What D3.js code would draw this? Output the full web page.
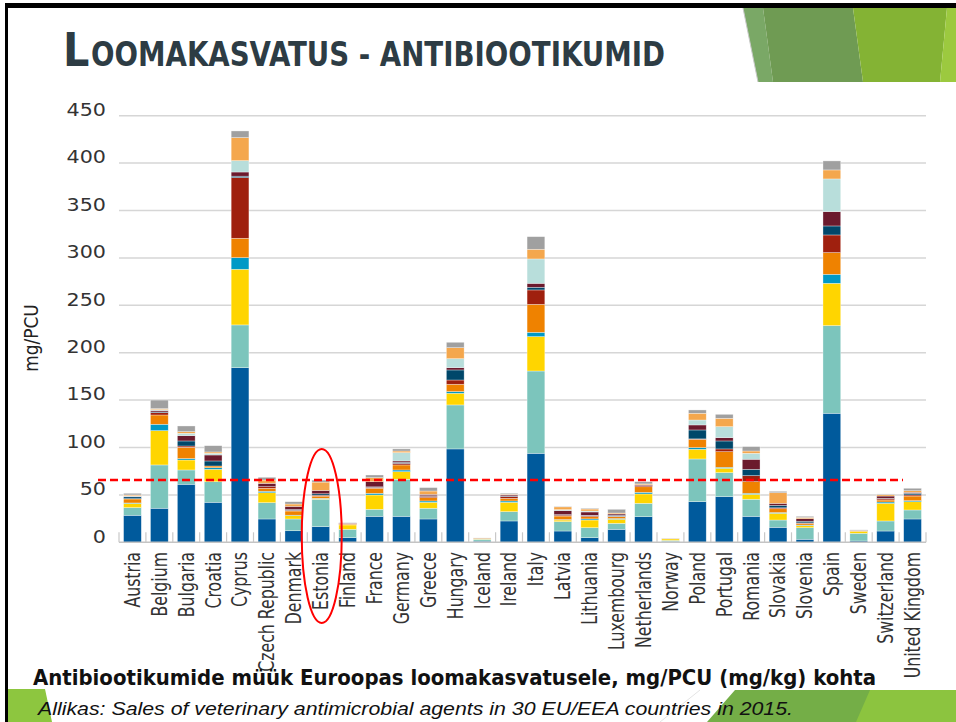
<!DOCTYPE html>
<html><head><meta charset="utf-8">
<script src="https://cdn.jsdelivr.net/npm/d3@7"></script>
<style>html,body{margin:0;padding:0;background:#fff;} svg{display:block}</style>
</head><body>
<svg id="c" width="956" height="722"></svg>
<script>
const countries = ["Austria","Belgium","Bulgaria","Croatia","Cyprus","Czech Republic","Denmark","Estonia","Finland","France","Germany","Greece","Hungary","Iceland","Ireland","Italy","Latvia","Lithuania","Luxembourg","Netherlands","Norway","Poland","Portugal","Romania","Slovakia","Slovenia","Spain","Sweden","Switzerland","United Kingdom"];

const tetracyclines   = [28.5,35.9,61.2,42.2,184.2,24.6,12.2,16.5,4.9,27.4,27.4,24.6,98.5,1.2,22.5,93.9,11.9,4.9,13.7,27.0,0.8,42.9,48.2,27.4,15.8,3.2,136.1,1.4,11.9,24.6];
const penicillins     = [8.1,45.7,15.1,21.7,45.1,17.2,12.4,28.9,8.8,7.4,39.1,11.3,46.4,2.0,9.8,86.8,9.9,10.5,6.3,14.1,1.2,45.0,25.3,18.0,7.7,12.2,92.5,8.1,10.6,9.5];
const sulfonamides    = [4.4,36.2,10.5,13.1,58.7,10.5,3.5,0.5,4.6,15.1,8.0,6.3,12.3,0.3,9.9,36.3,1.7,8.1,4.3,9.9,1.6,10.2,4.6,5.2,7.1,2.1,44.6,2.1,18.6,8.7];
const trimethoprim    = [0.5,6.7,1.5,1.7,12.3,1.5,0.5,0.5,0.3,1.8,1.8,1.4,1.8,0,1.4,4.5,0.5,1.2,0.8,1.7,0,1.8,1.0,1.1,0.8,0.7,9.5,0,1.4,1.1];
const macrolides      = [4.2,9.8,11.9,1.8,20.4,3.2,4.4,2.3,0.8,5.3,5.3,3.5,7.7,0.8,2.8,29.5,3.7,2.3,1.9,5.9,0.3,8.7,16.5,12.3,4.0,1.8,22.9,0.6,2.1,4.9];
const lincosamides    = [0.3,2.5,1.4,0,64.0,1.7,0.8,1.0,0.6,1.0,1.7,1.5,4.5,0,1.8,15.2,1.0,1.0,0.5,1.2,0,0.5,2.9,6.3,1.0,0.5,18.6,0,1.2,1.2];
const pleuromutilins  = [2.0,0.7,5.3,5.3,1.5,0,0.8,1.5,0,0.5,1.0,0.5,10.6,0,0.5,2.8,0.5,0.5,1.0,0,0,9.4,8.4,6.7,2.6,1.7,9.5,0,0.5,1.7];
const aminoglycosides = [0.5,1.5,5.6,6.3,4.4,3.5,3.3,3.5,0.3,5.5,1.5,1.5,2.4,0,1.2,4.2,4.2,3.5,1.4,0.8,0,5.3,3.5,10.6,2.1,2.7,15.1,0.5,2.5,1.0];
const polymyxins      = [0.5,1.0,2.5,1.8,12.0,0,0,0,0,0,8.8,0,9.5,0,0,25.7,1.0,1.0,0,0,0,5.2,11.6,6.3,0,0,34.5,0,0,0];
const quinolones      = [1.0,1.0,1.7,1.4,24.3,3.5,2.5,8.8,0,4.2,1.7,3.5,11.6,0,0.8,10.2,3.0,2.1,1.0,1.0,0,7.1,8.8,2.4,11.2,1.3,9.5,0,1.4,1.7];
const others          = [1.7,9.0,6.0,6.6,7.0,2.9,2.4,2.1,0.4,2.8,2.2,3.6,5.7,0.3,1.0,13.3,0.5,0.8,3.9,2.3,0.3,3.5,4.2,4.6,1.5,1.2,9.5,0.4,0.8,2.6];

const yTickValues = [0,50,100,150,200,250,300,350,400,450];
const referenceLevel = 65.7;   // red dashed line (Estonia level)
const highlighted = "Estonia";

const seriesKeys = ["tetracyclines","penicillins","sulfonamides","trimethoprim","macrolides","lincosamides","pleuromutilins","aminoglycosides","polymyxins","quinolones","others"];
const seriesData = [tetracyclines,penicillins,sulfonamides,trimethoprim,macrolides,lincosamides,pleuromutilins,aminoglycosides,polymyxins,quinolones,others];
const seriesColors = ["#005a9c","#7cc5bc","#ffd500","#0099c6","#ef8200","#9f200e","#00476a","#6b1a2d","#b8dedb","#f4a74d","#a0a0a0"];

const rows = countries.map((c,i)=>{const r={country:c}; seriesKeys.forEach((k,j)=>r[k]=seriesData[j][i]); return r;});

const W=956,H=722;
const svg = d3.select("#c");
svg.append("rect").attr("width",W).attr("height",H).attr("fill","#fff");

// decorations
const deco = svg.append("g");
const poly=(pts,fill)=>deco.append("polygon").attr("points",pts.map(p=>p.join(",")).join(" ")).attr("fill",fill);
poly([[743,8],[763,8],[773,82],[758,82]],"#7aa866");
poly([[763,8],[853,8],[863,82],[773,82]],"#6f9b53");
poly([[853,8],[947,8],[940,82],[863,82]],"#84b334");
poly([[947,8],[956,8],[956,82],[940,82]],"#9cc93f");
deco.append("line").attr("x1",743).attr("y1",8).attr("x2",758).attr("y2",82).attr("stroke","#c8c8c8").attr("stroke-width",1);
poly([[735,690],[956,690],[956,722],[707,722]],"#74ae47");
poly([[870,690],[956,690],[956,722],[856,722]],"#8cc43f");
poly([[8,689],[45,689],[52,722],[8,722]],"#8dc63f");
deco.append("line").attr("x1",700).attr("y1",690).attr("x2",660).attr("y2",722).attr("stroke","#e4e4e4").attr("stroke-width",1);
svg.append("rect").attr("x",5).attr("y",3).attr("width",951).attr("height",5).attr("fill","#000");
svg.append("rect").attr("x",5).attr("y",3).attr("width",3).attr("height",719).attr("fill","#000");

// title
svg.append("text").attr("x",63).attr("y",66).attr("font-family","Liberation Sans Narrow, DejaVu Sans Condensed, sans-serif")
  .attr("font-size",46).attr("font-weight","bold").attr("fill","#2d3c44").text("L");
svg.append("text").attr("x",91).attr("y",66).attr("font-family","Liberation Sans Narrow, DejaVu Sans Condensed, sans-serif")
  .attr("font-size",34).attr("font-weight","bold").attr("fill","#2d3c44").attr("textLength",574).attr("lengthAdjust","spacingAndGlyphs")
  .text("OOMAKASVATUS - ANTIBIOOTIKUMID");

// scales
const x = d3.scaleBand().domain(countries).range([119,926]).paddingInner(0.34).paddingOuter(0.17);
const y = d3.scaleLinear().domain([0,450]).range([542.3,115.7]);

// grid
const grid = svg.append("g");
grid.selectAll("line").data(yTickValues.filter(v=>v>0)).join("line")
  .attr("x1",119).attr("x2",926).attr("y1",d=>y(d)).attr("y2",d=>y(d))
  .attr("stroke","#d6d6d6").attr("stroke-width",1.5);

// y labels
svg.append("g").selectAll("text").data(yTickValues).join("text")
  .attr("transform",d=>`translate(106,${y(d)-6}) scale(1.18,1)`)
  .attr("text-anchor","end").attr("dy","0.36em")
  .attr("font-family","DejaVu Sans, Verdana, sans-serif").attr("font-size",17.5).attr("fill","#333")
  .text(d=>d);

svg.append("text").attr("transform","translate(38,338) rotate(-90) scale(1,1.15)")
  .attr("text-anchor","middle").attr("font-family","DejaVu Sans, sans-serif").attr("font-size",17).attr("fill","#222")
  .text("mg/PCU");

// stacked bars
const stack = d3.stack().keys(seriesKeys)(rows);
const bars = svg.append("g");
stack.forEach((layer,j)=>{
  bars.append("g").attr("fill",seriesColors[j]).selectAll("rect").data(layer).join("rect")
    .attr("x",d=>x(d.data.country)).attr("width",x.bandwidth())
    .attr("y",d=>y(d[1])).attr("height",d=>Math.max(0,y(d[0])-y(d[1])))
    .attr("stroke","#ffffff").attr("stroke-opacity",0.55).attr("stroke-width",0.6);
});

// axis baseline and ticks
svg.append("line").attr("x1",119).attr("x2",926).attr("y1",y(0)).attr("y2",y(0)).attr("stroke","#c4c4c4").attr("stroke-width",1.5);
const bounds = d3.range(countries.length+1).map(i=>x.range()[0]+i*x.step());
svg.append("g").selectAll("line").data(bounds).join("line")
  .attr("x1",d=>d).attr("x2",d=>d).attr("y1",y(0)-10).attr("y2",y(0))
  .attr("stroke","#c8c8c8").attr("stroke-width",1.2);

// reference line
svg.append("line").attr("x1",98).attr("x2",903).attr("y1",y(referenceLevel)).attr("y2",y(referenceLevel))
  .attr("stroke","#ff0000").attr("stroke-width",2.5).attr("stroke-dasharray","8,4");

// x labels
svg.append("g").selectAll("text").data(countries).join("text")
  .attr("transform",d=>`translate(${x(d)+x.bandwidth()/2},552) rotate(-90) scale(1,1.18)`)
  .attr("text-anchor","end").attr("dy","0.36em")
  .attr("font-family","DejaVu Sans Condensed, DejaVu Sans, sans-serif").attr("font-stretch","condensed")
  .attr("font-size",17.5).attr("fill","#333").text(d=>d);

// caption
svg.append("text").attr("x",33).attr("y",685).attr("font-family","DejaVu Sans Condensed, DejaVu Sans, sans-serif")
  .attr("font-stretch","condensed").attr("font-weight","bold").attr("font-size",20.5).attr("fill","#111")
  .attr("textLength",843).attr("lengthAdjust","spacingAndGlyphs")
  .text("Antibiootikumide müük Euroopas loomakasvatusele, mg/PCU (mg/kg) kohta");
svg.append("text").attr("x",38).attr("y",715).attr("font-family","Liberation Sans, Arial, sans-serif")
  .attr("font-style","italic").attr("font-size",18.5).attr("fill","#111")
  .attr("textLength",755).attr("lengthAdjust","spacingAndGlyphs")
  .text("Allikas: Sales of veterinary antimicrobial agents in 30 EU/EEA countries in 2015.");

// highlight ellipse
svg.append("ellipse").attr("cx",x(highlighted)+x.bandwidth()/2+1).attr("cy",536).attr("rx",20).attr("ry",87)
  .attr("fill","none").attr("stroke","#ff0000").attr("stroke-width",2);
</script>
</body></html>
